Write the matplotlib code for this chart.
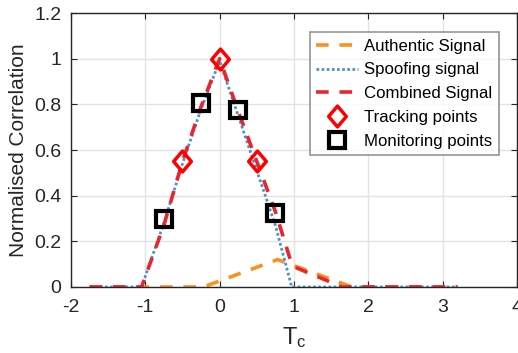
import numpy as np
import matplotlib.pyplot as plt
from matplotlib.path import Path

plt.rcParams['font.family'] = ['Liberation Sans', 'DejaVu Sans']
plt.rcParams['mathtext.fontset'] = 'custom'
plt.rcParams['mathtext.rm'] = 'Liberation Sans'
plt.rcParams['mathtext.it'] = 'Liberation Sans'
plt.rcParams['axes.unicode_minus'] = False

# delays in chips and normalised correlation values
auth_x = [-1.75, -0.22, 0.78, 1.78, 3.2]
auth_y = [0, 0, 0.12, 0, 0]

spoof_x = [-1.75, -1.05, -0.75, -0.5, -0.25, 0, 0.25, 0.5, 0.75, 0.97, 3.2]
spoof_y = [0, 0, 0.28, 0.54, 0.78, 0.99, 0.75, 0.51, 0.27, 0, 0]

comb_x = [-1.75, -1.05, -0.75, -0.5, -0.25, 0, 0.25, 0.5, 0.75, 0.97, 1.04, 1.65, 3.2]
comb_y = [0, 0, 0.27, 0.55, 0.79, 1.0, 0.77, 0.55, 0.33, 0.1, 0.083, 0, 0]

track_x = [-0.5, 0, 0.5]
track_y = [0.55, 1.0, 0.55]

mon_x = [-0.75, -0.25, 0.25, 0.75]
mon_y = [0.30, 0.805, 0.775, 0.325]

# slightly tall diamond
diamond = Path([(0, 1), (0.85, 0), (0, -1), (-0.85, 0), (0, 1)],
               [Path.MOVETO, Path.LINETO, Path.LINETO, Path.LINETO, Path.CLOSEPOLY])

fig = plt.figure(figsize=(5.18, 3.53), dpi=100)
ax = fig.add_axes([0.137, 0.187, 0.861, 0.776])

ax.plot(auth_x, auth_y, color='#FF8F1F', linestyle=(0, (3.5, 3)), linewidth=2.6, label='Authentic Signal')
ax.plot(spoof_x, spoof_y, color='#4A8FCF', linestyle=(0, (0.95, 0.9)), linewidth=2.0, label='Spoofing signal')
ax.plot(comb_x, comb_y, color='#E8262D', linestyle=(0, (3.5, 3)), linewidth=2.6, label='Combined Signal')
ax.plot(track_x, track_y, linestyle='none', marker=diamond, markersize=15, markerfacecolor='none',
        markeredgecolor='#FF0000', markeredgewidth=2.5, label='Tracking points')
ax.plot(mon_x, mon_y, linestyle='none', marker='s', markersize=11.5, markerfacecolor='none',
        markeredgecolor='black', markeredgewidth=3, label='Monitoring points')

ax.set_xlim(-2, 4)
ax.set_ylim(0, 1.2)
ax.set_xticks(np.arange(-2, 5, 1))
ax.set_yticks(np.arange(0, 1.21, 0.2))
ax.set_yticklabels(['0', '0.2', '0.4', '0.6', '0.8', '1', '1.2'])
ax.grid(True, color='#E3E3E3', linewidth=1)
ax.set_axisbelow(True)
ax.tick_params(direction='in', top=True, right=True, length=4, labelsize=14, colors='#262626')
ax.tick_params(axis='x', pad=9)
ax.tick_params(axis='y', pad=7)
for s in ax.spines.values():
    s.set_color('#262626')
    s.set_linewidth(1)

ax.set_xlabel('$\\mathrm{T_c}$', fontsize=17, color='#262626', labelpad=6)
ax.set_ylabel('Normalised Correlation', fontsize=15, color='#262626', labelpad=4)

leg = ax.legend(loc='upper right', bbox_to_anchor=(0.96, 0.931), fontsize=12.1, frameon=True,
                fancybox=False, edgecolor='#7A7A7A', handlelength=2.45, borderpad=0.4,
                labelspacing=0.52, handletextpad=0.4, borderaxespad=0)
leg.get_frame().set_linewidth(1.2)

fig.savefig('out.png', dpi=100)
